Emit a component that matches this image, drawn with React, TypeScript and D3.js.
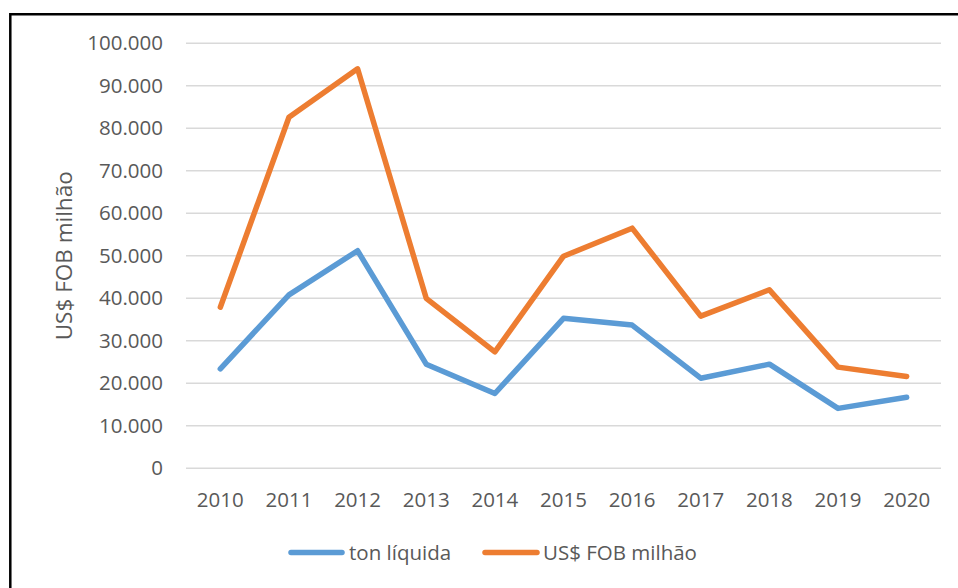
import React, { useEffect, useRef } from 'react';
import * as d3 from 'd3';

const years = ['2010', '2011', '2012', '2013', '2014', '2015', '2016', '2017', '2018', '2019', '2020'];
const tonLiquida = [23400, 40800, 51200, 24500, 17600, 35300, 33700, 21200, 24500, 14100, 16700];
const usdFob = [37900, 82600, 94000, 40000, 27400, 49900, 56500, 35800, 42000, 23800, 21600];
const yTicks = [0, 10000, 20000, 30000, 40000, 50000, 60000, 70000, 80000, 90000, 100000];
const seriesNames = ['ton líquida', 'US$ FOB milhão'];
const seriesColors = ['#5B9BD5', '#ED7D31'];

const W = 958;
const H = 588;
const FONT = '"Open Sans", "Noto Sans", sans-serif';
const LABEL_SIZE = '20.5px';

const App = () => {
  const svgRef = useRef(null);

  useEffect(() => {
    const svg = d3.select(svgRef.current);
    svg.selectAll('*').remove();

    const plot = { left: 186, right: 941, top: 43.3, bottom: 468.3 };

    const x = d3.scaleBand().domain(years).range([plot.left, plot.right]).padding(0);
    const y = d3.scaleLinear().domain([0, 100000]).range([plot.bottom, plot.top]);
    const fmt = (v) => d3.format(',')(v).replace(/,/g, '.');

    // frame (top + left only, as in the cropped original)
    svg.append('line')
      .attr('x1', 10).attr('x2', W).attr('y1', 14.3).attr('y2', 14.3)
      .attr('stroke', '#000').attr('stroke-width', 2.5);
    svg.append('line')
      .attr('x1', 10.3).attr('x2', 10.3).attr('y1', 13).attr('y2', H)
      .attr('stroke', '#000').attr('stroke-width', 2.5);

    // gridlines
    svg.append('g')
      .selectAll('line')
      .data(yTicks)
      .join('line')
        .attr('x1', plot.left).attr('x2', plot.right)
        .attr('y1', d => y(d)).attr('y2', d => y(d))
        .attr('stroke', '#D9D9D9').attr('stroke-width', 1.5);

    // y labels
    svg.append('g')
      .selectAll('text')
      .data(yTicks)
      .join('text')
        .attr('x', 163)
        .attr('y', d => y(d))
        .attr('dy', '0.35em')
        .attr('text-anchor', 'end')
        .style('font-family', FONT)
        .style('font-size', LABEL_SIZE)
        .style('fill', '#595959')
        .text(d => fmt(d));

    // x labels
    svg.append('g')
      .selectAll('text')
      .data(years)
      .join('text')
        .attr('x', d => x(d) + x.bandwidth() / 2)
        .attr('y', 507)
        .attr('text-anchor', 'middle')
        .style('font-family', FONT)
        .style('font-size', LABEL_SIZE)
        .style('fill', '#595959')
        .text(d => d);

    // y axis title
    svg.append('text')
      .attr('transform', `translate(72,${(plot.top + plot.bottom) / 2}) rotate(-90)`)
      .attr('text-anchor', 'middle')
      .style('font-family', FONT)
      .style('font-size', '22.5px')
      .style('fill', '#595959')
      .text('US$ FOB milhão');

    // lines
    const line = d3.line()
      .x((d, i) => x(years[i]) + x.bandwidth() / 2)
      .y(d => y(d));

    [tonLiquida, usdFob].forEach((vals, i) => {
      svg.append('path')
        .datum(vals)
        .attr('d', line)
        .attr('fill', 'none')
        .attr('stroke', seriesColors[i])
        .attr('stroke-width', 5.5)
        .attr('stroke-linejoin', 'round')
        .attr('stroke-linecap', 'round');
    });

    // legend
    const legendItems = [
      { x1: 291, x2: 342, tx: 349 },
      { x1: 485, x2: 537, tx: 543 },
    ];
    const lg = svg.append('g');
    legendItems.forEach((it, i) => {
      lg.append('line')
        .attr('x1', it.x1).attr('x2', it.x2)
        .attr('y1', 552.5).attr('y2', 552.5)
        .attr('stroke', seriesColors[i])
        .attr('stroke-width', 5.5)
        .attr('stroke-linecap', 'round');
      lg.append('text')
        .attr('x', it.tx)
        .attr('y', 552.5)
        .attr('dy', '0.35em')
        .style('font-family', FONT)
        .style('font-size', LABEL_SIZE)
        .style('fill', '#595959')
        .text(seriesNames[i]);
    });
  }, []);

  return (
    <svg
      ref={svgRef}
      width={W}
      height={H}
      style={{ position: 'absolute', left: 0, top: 0, background: '#fff' }}
    />
  );
};

export default App;
